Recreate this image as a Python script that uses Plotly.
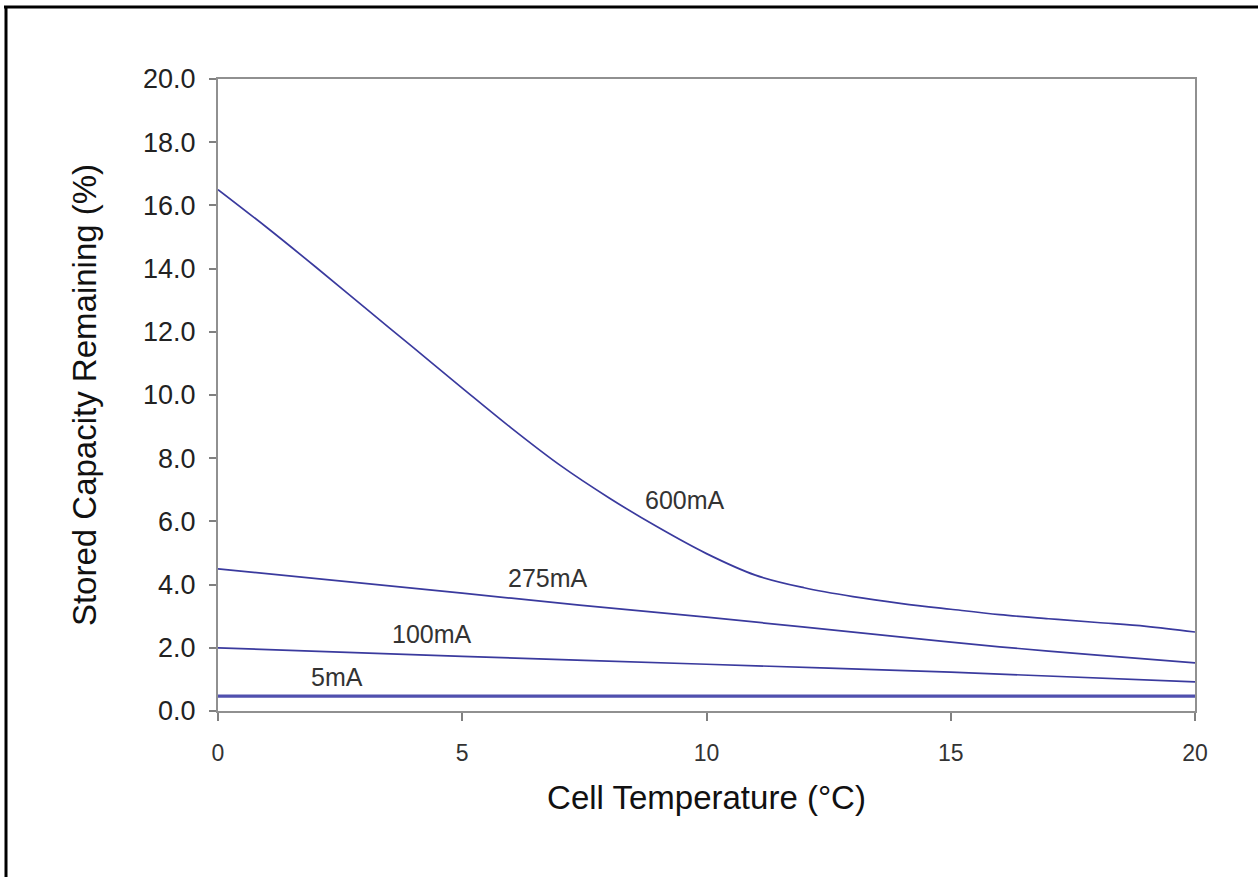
import plotly.graph_objects as go

temp_600 = [0, 1, 2, 3, 4, 5, 6, 7, 8, 9, 10, 11, 12, 13, 14, 15, 16, 17, 18, 19, 20]
cap_600 = [16.5, 15.3, 14.05, 12.77, 11.5, 10.22, 8.96, 7.78, 6.75, 5.82, 4.98, 4.3, 3.9, 3.62, 3.4, 3.22, 3.05, 2.92, 2.8, 2.68, 2.5]

temp_275 = [0, 5, 7.4, 10, 14, 16, 18, 20]
cap_275 = [4.5, 3.73, 3.35, 2.97, 2.34, 2.03, 1.77, 1.52]

temp_100 = [0, 5, 10, 15, 20]
cap_100 = [2.0, 1.73, 1.48, 1.23, 0.92]

temp_5 = [0, 20]
cap_5 = [0.47, 0.47]

labels = ["600mA", "275mA", "100mA", "5mA"]
label_x = [9.56, 6.76, 4.38, 2.44]
label_y = [6.68, 4.21, 2.44, 1.08]

x_ticks = [0, 5, 10, 15, 20]

line_color = "#3a3a9e"
FONT = "Liberation Sans, Arial, sans-serif"

fig = go.Figure()
fig.add_trace(go.Scatter(x=temp_600, y=cap_600, mode="lines", line=dict(color=line_color, width=1.7, shape="spline", smoothing=1.0), name="600mA"))
fig.add_trace(go.Scatter(x=temp_275, y=cap_275, mode="lines", line=dict(color=line_color, width=1.7, shape="spline", smoothing=0.8), name="275mA"))
fig.add_trace(go.Scatter(x=temp_100, y=cap_100, mode="lines", line=dict(color=line_color, width=1.7, shape="spline", smoothing=0.8), name="100mA"))
fig.add_trace(go.Scatter(x=temp_5, y=cap_5, mode="lines", line=dict(color="#5050ae", width=3.2), name="5mA"))

for t, lx, ly in zip(labels, label_x, label_y):
    fig.add_annotation(x=lx, y=ly, text=t, showarrow=False,
                       font=dict(family=FONT, size=25, color="#333333"))

L, R, T, B = 218, 63, 79, 166
W, H = 1258, 877
pw, ph = W - L - R, H - T - B

fig.add_shape(type="line", xref="paper", yref="paper",
              x0=(4 - L) / pw, x1=(W - L) / pw, y0=(H - B - 7) / ph, y1=(H - B - 7) / ph,
              line=dict(color="black", width=3))
fig.add_shape(type="line", xref="paper", yref="paper",
              x0=(6 - L) / pw, x1=(6 - L) / pw, y0=(H - B - H) / ph, y1=(H - B - 6) / ph,
              line=dict(color="black", width=3))

fig.update_layout(
    width=W, height=H,
    margin=dict(l=L, r=R, t=T, b=B),
    paper_bgcolor="white", plot_bgcolor="white",
    showlegend=False,
    font=dict(family=FONT, color="#333333"),
    xaxis=dict(range=[0, 20], tickvals=x_ticks, ticks="outside", ticklen=8, tickcolor="#808080",
               tickwidth=2, showline=True, linecolor="#909090", linewidth=2, mirror=True,
               showgrid=False, zeroline=False, tickfont=dict(size=23, color="#333333"),
               ticklabelstandoff=12,
               title=dict(text="Cell Temperature (°C)", font=dict(size=33, color="#111111"), standoff=21)),
    yaxis=dict(range=[0, 20], dtick=2, tickformat=".1f", ticks="outside", ticklen=7, tickcolor="#808080",
               tickwidth=2, showline=True, linecolor="#909090", linewidth=2, mirror=True,
               showgrid=False, zeroline=False, tickfont=dict(size=27, color="#222222"),
               ticklabelstandoff=8,
               title=dict(text="Stored Capacity Remaining (%)", font=dict(size=33, color="#111111"), standoff=36)),
)

fig.write_html("out.html", config={"displayModeBar": False},
               post_script="document.body.style.margin='0';document.body.style.overflow='hidden';")
